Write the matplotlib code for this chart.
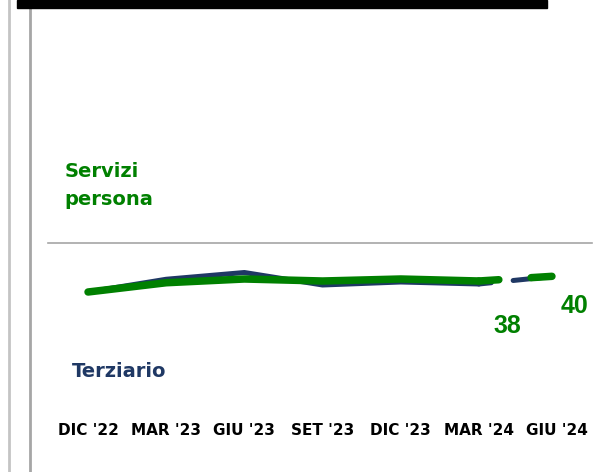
import matplotlib
matplotlib.use("Agg")
import matplotlib.pyplot as plt
from matplotlib.patches import Rectangle
from matplotlib.lines import Line2D

plt.rcParams['lines.scale_dashes'] = False

# ---- data ----
months = ["DIC '22", "MAR '23", "GIU '23", "SET '23", "DIC '23", "MAR '24", "GIU '24"]
terziario = [33.6, 38.7, 41.4, 36.4, 37.6, 36.8, 40.0]
servizi_persona = [33.6, 37.3, 38.8, 38.0, 38.8, 38.0, 40.0]
label_mar24 = "38"
label_giu24 = "40"

GREEN = "#008000"
NAVY = "#1F3864"

W, H = 598, 472
fig = plt.figure(figsize=(W / 100, H / 100), dpi=100)

def fx(px):
    return px / W

def fy(py):
    return 1 - py / H

# decorations
fig.patches.append(Rectangle((fx(17), fy(8)), fx(547) - fx(17), fy(0) - fy(8),
                             transform=fig.transFigure, color="black", zorder=5))
fig.lines.append(Line2D([fx(8.5), fx(8.5)], [0, 1], transform=fig.transFigure,
                        color="#c4c4c4", lw=2.0))
fig.lines.append(Line2D([fx(29.5), fx(29.5)], [0, fy(8)], transform=fig.transFigure,
                        color="#a6a6a6", lw=2.0))

# axes: x from px 48 to 592, y from px 243 to 420
ax = fig.add_axes([fx(48), fy(420), fx(592) - fx(48), fy(243) - fy(420)])
ax.set_xlim(-0.512, 6.447)
ax.set_ylim(-17.6, 53.2)
for s in ["left", "right", "bottom"]:
    ax.spines[s].set_visible(False)
ax.spines["top"].set_color("#a6a6a6")
ax.spines["top"].set_linewidth(1.2)
ax.set_yticks([])
ax.set_xticks(range(len(months)))
ax.set_xticklabels(months, fontfamily="DejaVu Sans", fontweight="bold",
                   fontsize=11, color="black")
ax.tick_params(axis="x", length=0, pad=2.5)

x = list(range(len(months)))

# blue (Terziario)
ax.plot(x[:6], terziario[:6], color=NAVY, lw=3.6, solid_capstyle="round",
        solid_joinstyle="round", zorder=3)
ax.plot(x[5:], terziario[5:], color=NAVY, lw=3.6, dash_capstyle="round",
        linestyle=(0, (9.0, 15.8, 23.4, 72)), zorder=3)

# green (Servizi persona)
ax.plot(x[:6], servizi_persona[:6], color=GREEN, lw=5.4, solid_capstyle="round",
        solid_joinstyle="round", zorder=4)
ax.plot(x[5:], servizi_persona[5:], color=GREEN, lw=5.4, dash_capstyle="round",
        linestyle=(0, (14.4, 23.3, 15.0, 72)), zorder=4)

# value labels
ax.annotate(label_mar24, (x[5], servizi_persona[5]), xytext=(28, -45),
            textcoords="offset pixels", ha="center", va="center",
            fontfamily="Liberation Sans", fontweight="bold", fontsize=18, color=GREEN)
ax.annotate(label_giu24, (x[6], servizi_persona[6]), xytext=(17, -30),
            textcoords="offset pixels", ha="center", va="center",
            fontfamily="Liberation Sans", fontweight="bold", fontsize=18, color=GREEN,
            annotation_clip=False)

# series names
fig.text(fx(64.5), fy(177), "Servizi", color=GREEN, fontfamily="DejaVu Sans",
         fontweight="bold", fontsize=14, va="baseline", ha="left")
fig.text(fx(64.5), fy(205), "persona", color=GREEN, fontfamily="DejaVu Sans",
         fontweight="bold", fontsize=14, va="baseline", ha="left")
fig.text(fx(72), fy(377), "Terziario", color=NAVY, fontfamily="DejaVu Sans",
         fontweight="bold", fontsize=14, va="baseline", ha="left")

fig.savefig("out.png", dpi=100)
